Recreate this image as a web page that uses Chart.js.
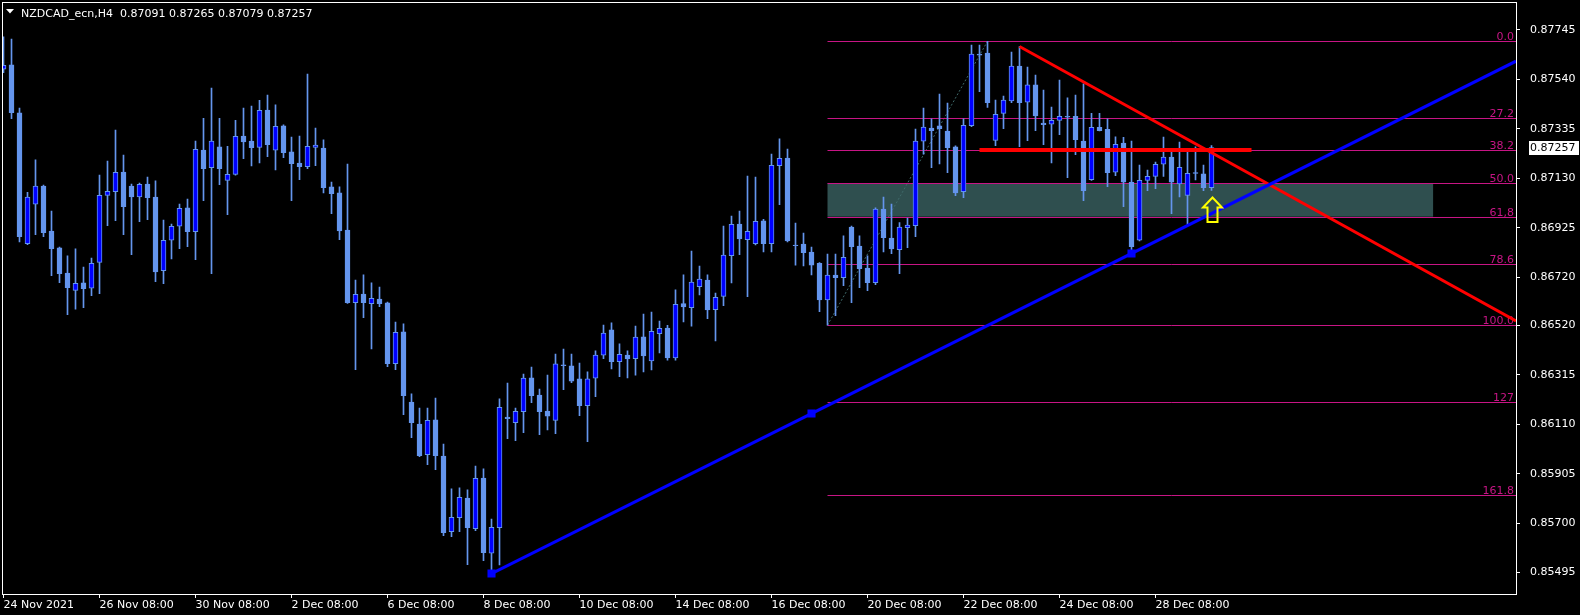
<!DOCTYPE html>
<html>
<head>
<meta charset="utf-8">
<title>NZDCAD_ecn,H4</title>
<script src="https://cdn.jsdelivr.net/npm/chart.js@4.4.1/dist/chart.umd.min.js"></script>
<style>
  html, body { margin: 0; padding: 0; background: #000; }
  #wrap { width: 1580px; height: 615px; }
</style>
</head>
<body>
<div id="wrap"><canvas id="nzdcad" width="1580" height="615"></canvas></div>
<script>
// NZDCAD H4 candles, oldest first
const symbolName = 'NZDCAD_ecn,H4';
const opens = [
  0.87582,0.87600,0.87401,0.86859,0.87022,0.87098,0.86911,0.86841,0.86737,0.86665,
  0.86696,0.86674,0.86781,0.87059,0.87074,0.87156,0.87098,0.87053,0.87106,0.87052,
  0.86747,0.86873,0.86931,0.87007,0.86908,0.87247,0.87174,0.87260,0.87121,0.87146,
  0.87305,0.87284,0.87258,0.87413,0.87246,0.87347,0.87239,0.87193,0.87178,0.87258,
  0.87255,0.87094,0.87069,0.86915,0.86614,0.86650,0.86610,0.86629,0.86613,0.86361,
  0.86493,0.86202,0.86111,0.85984,0.86128,0.85978,0.85665,0.85723,0.85804,0.85677,
  0.85887,0.85575,0.85681,0.86140,0.86117,0.86162,0.86302,0.86231,0.86165,0.86126,
  0.86356,0.86352,0.86298,0.86187,0.86301,0.86396,0.86501,0.86369,0.86397,0.86382,
  0.86472,0.86373,0.86486,0.86509,0.86385,0.86610,0.86593,0.86680,0.86708,0.86585,
  0.86640,0.86809,0.86940,0.86875,0.86859,0.86953,0.86859,0.87182,0.87214,0.86853,
  0.86857,0.86824,0.86777,0.86625,0.86728,0.86718,0.86928,0.86849,0.86758,0.86697,
  0.87002,0.86882,0.86834,0.86925,0.86933,0.87284,0.87338,0.87347,0.87326,0.87260,
  0.87074,0.87348,0.87645,0.87649,0.87287,0.87399,0.87451,0.87595,0.87445,0.87517,
  0.87359,0.87354,0.87370,0.87387,0.87387,0.87284,0.87124,0.87341,0.87333,0.87155,
  0.87276,0.87114,0.86873,0.87121,0.87138,0.87188,0.87218,0.87106,0.87059,0.87153,
  0.87148,0.87091
];
const highs = [
  0.87716,0.87707,0.87421,0.87072,0.87206,0.87102,0.86994,0.86845,0.86808,0.86837,
  0.86762,0.86799,0.87143,0.87201,0.87330,0.87226,0.87106,0.87110,0.87135,0.87119,
  0.86957,0.86940,0.87023,0.87044,0.87284,0.87378,0.87504,0.87378,0.87262,0.87370,
  0.87421,0.87429,0.87453,0.87475,0.87434,0.87351,0.87301,0.87305,0.87562,0.87338,
  0.87289,0.87114,0.87094,0.87189,0.86708,0.86729,0.86696,0.86679,0.86617,0.86534,
  0.86526,0.86236,0.86177,0.86177,0.86219,0.86028,0.85842,0.85846,0.85838,0.85937,
  0.85925,0.85717,0.86215,0.86281,0.86177,0.86318,0.86347,0.86256,0.86314,0.86401,
  0.86422,0.86401,0.86364,0.86327,0.86414,0.86521,0.86530,0.86443,0.86414,0.86517,
  0.86567,0.86575,0.86538,0.86520,0.86667,0.86729,0.86828,0.86766,0.86729,0.86654,
  0.86932,0.86973,0.86994,0.87139,0.87135,0.86960,0.87230,0.87293,0.87251,0.86944,
  0.86903,0.86845,0.86780,0.86816,0.86816,0.86891,0.86932,0.86891,0.86808,0.87007,
  0.87052,0.87023,0.86946,0.86965,0.87334,0.87421,0.87376,0.87479,0.87442,0.87264,
  0.87376,0.87682,0.87682,0.87698,0.87454,0.87471,0.87653,0.87676,0.87591,0.87558,
  0.87496,0.87425,0.87537,0.87463,0.87475,0.87521,0.87399,0.87399,0.87376,0.87302,
  0.87300,0.87284,0.87185,0.87164,0.87197,0.87301,0.87247,0.87280,0.87240,0.87260,
  0.87185,0.87265
];
const lows = [
  0.87568,0.87377,0.86866,0.86855,0.86896,0.86888,0.86726,0.86697,0.86564,0.86587,
  0.86593,0.86643,0.86651,0.86933,0.86954,0.86896,0.86813,0.86950,0.86958,0.86701,
  0.86693,0.86795,0.86838,0.86846,0.86792,0.87037,0.86734,0.87103,0.86979,0.87143,
  0.87211,0.87181,0.87194,0.87219,0.87165,0.87215,0.87037,0.87124,0.87170,0.87182,
  0.87069,0.86983,0.86875,0.86611,0.86336,0.86552,0.86422,0.86597,0.86349,0.86336,
  0.86150,0.86054,0.85976,0.85942,0.85922,0.85648,0.85644,0.85665,0.85528,0.85669,
  0.85544,0.85495,0.85527,0.86050,0.86042,0.86075,0.86199,0.86067,0.86087,0.86071,
  0.86253,0.86282,0.86146,0.86038,0.86224,0.86382,0.86339,0.86307,0.86302,0.86314,
  0.86327,0.86335,0.86406,0.86376,0.86376,0.86534,0.86517,0.86646,0.86548,0.86456,
  0.86602,0.86696,0.86813,0.86639,0.86854,0.86825,0.86825,0.87020,0.86866,0.86770,
  0.86766,0.86729,0.86577,0.86521,0.86560,0.86685,0.86614,0.86676,0.86664,0.86689,
  0.86825,0.86817,0.86734,0.86842,0.86888,0.87230,0.87174,0.87189,0.87153,0.87058,
  0.87049,0.87344,0.87489,0.87424,0.87265,0.87335,0.87443,0.87261,0.87286,0.87327,
  0.87269,0.87194,0.87311,0.87132,0.87228,0.87037,0.87121,0.87326,0.87095,0.87141,
  0.87012,0.86828,0.86870,0.87078,0.87087,0.87138,0.86983,0.87053,0.86940,0.87123,
  0.87078,0.87079
];
const closes = [
  0.87598,0.87402,0.86888,0.87052,0.87098,0.86904,0.86838,0.86734,0.86676,0.86694,
  0.86672,0.86777,0.87059,0.87076,0.87155,0.87012,0.87053,0.87105,0.87049,0.86742,
  0.86873,0.86931,0.87005,0.86908,0.87250,0.87170,0.87284,0.87170,0.87146,0.87304,
  0.87281,0.87257,0.87412,0.87269,0.87345,0.87236,0.87190,0.87178,0.87262,0.87267,
  0.87091,0.87066,0.86912,0.86614,0.86649,0.86614,0.86632,0.86610,0.86361,0.86491,
  0.86228,0.86117,0.85980,0.86126,0.85980,0.85660,0.85724,0.85807,0.85681,0.85886,
  0.85578,0.85683,0.86180,0.86133,0.86164,0.86301,0.86228,0.86162,0.86144,0.86360,
  0.86353,0.86289,0.86187,0.86298,0.86397,0.86488,0.86369,0.86400,0.86381,0.86471,
  0.86393,0.86495,0.86508,0.86385,0.86607,0.86596,0.86699,0.86712,0.86584,0.86636,
  0.86811,0.86939,0.86878,0.86910,0.86951,0.86859,0.87184,0.87213,0.86870,0.86850,
  0.86821,0.86770,0.86625,0.86728,0.86718,0.86802,0.86846,0.86755,0.86697,0.87002,
  0.86884,0.86837,0.86928,0.86936,0.87284,0.87342,0.87327,0.87335,0.87257,0.87069,
  0.87349,0.87645,0.87640,0.87443,0.87395,0.87454,0.87595,0.87443,0.87517,0.87388,
  0.87352,0.87370,0.87387,0.87383,0.87290,0.87078,0.87341,0.87327,0.87153,0.87271,
  0.87114,0.86846,0.87121,0.87138,0.87188,0.87218,0.87114,0.87175,0.87150,0.87150,
  0.87091,0.87257
];

// axis labels
const timeLabels = ['24 Nov 2021', '26 Nov 08:00', '30 Nov 08:00', '2 Dec 08:00', '6 Dec 08:00',
  '8 Dec 08:00', '10 Dec 08:00', '14 Dec 08:00', '16 Dec 08:00', '20 Dec 08:00',
  '22 Dec 08:00', '24 Dec 08:00', '28 Dec 08:00'];
const labelBars = [0, 12, 24, 36, 48, 60, 72, 84, 96, 108, 120, 132, 144];
const priceTicks = [0.87745, 0.87540, 0.87335, 0.87130, 0.86925, 0.86720, 0.86520,
  0.86315, 0.86110, 0.85905, 0.85700, 0.85495];

// fibonacci from the 100 bar low up to the 0 bar high
const fibLowBar = 103, fibHighBar = 123;
const fibLevels = [0, 0.272, 0.382, 0.5, 0.618, 0.786, 1, 1.27, 1.6];
const fibLabels = ['0.0', '27.2', '38.2', '50.0', '61,8', '78.6', '100.0', '127', '161.8'];
const zoneLevels = [0.5, 0.618];
const zoneEndBar = 178.7;

// trend lines (anchor bars + prices)
const redBars = [127, 151], redPrices = [0.87676, 0.87236];
const blueBars = [61, 141], bluePrices = [0.85491, 0.86818];
const flatBars = [122, 156], flatPrice = 0.87247;
const arrowBar = 151;

const xMin = -0.125, xMax = 189.0625;
const yMin = 0.854062, yMax = 0.878607;
const FONT = 'DejaVu Sans';
const bull = '#0000ff', bear = '#6495ed';

const ray = (bars, prices, endBar) => {
  const k = (prices[1] - prices[0]) / (bars[1] - bars[0]);
  return [{x: bars[0], y: prices[0]}, {x: endBar, y: prices[0] + k * (endBar - bars[0])}];
};

const fibHigh = highs[fibHighBar], fibLow = lows[fibLowBar];
const fibPrice = lv => fibHigh - lv * (fibHigh - fibLow);

var overlayPlugin = {
  id: 'overlay',
  beforeDraw(chart) {
    const c = chart.ctx;
    c.save();
    c.fillStyle = '#000';
    c.fillRect(0, 0, chart.width, chart.height);
    c.restore();
  },
  beforeDatasetsDraw(chart) {
    const {ctx, chartArea: a, scales: {x, y}} = chart;
    ctx.save();
    ctx.beginPath();
    ctx.rect(a.left, a.top, a.right - a.left, a.bottom - a.top);
    ctx.clip();
    // zone box
    const zx1 = x.getPixelForValue(fibLowBar), zx2 = x.getPixelForValue(zoneEndBar);
    const zy1 = y.getPixelForValue(fibPrice(zoneLevels[0])), zy2 = y.getPixelForValue(fibPrice(zoneLevels[1]));
    ctx.fillStyle = '#2f4f4f';
    ctx.fillRect(zx1, zy1, zx2 - zx1, zy2 - zy1);
    // fib diagonal
    ctx.strokeStyle = '#3f6a6a';
    ctx.lineWidth = 1;
    ctx.setLineDash([2, 2]);
    ctx.beginPath();
    ctx.moveTo(x.getPixelForValue(fibLowBar), y.getPixelForValue(fibLow));
    ctx.lineTo(x.getPixelForValue(fibHighBar), y.getPixelForValue(fibHigh));
    ctx.stroke();
    ctx.setLineDash([]);
    // fib levels
    const fx = x.getPixelForValue(fibLowBar);
    ctx.font = '11px "' + FONT + '"';
    ctx.textAlign = 'right';
    ctx.textBaseline = 'alphabetic';
    fibLevels.forEach((lv, i) => {
      const py = Math.round(y.getPixelForValue(fibPrice(lv))) + 0.5;
      ctx.strokeStyle = '#c71585';
      ctx.beginPath();
      ctx.moveTo(fx, py);
      ctx.lineTo(a.right, py);
      ctx.stroke();
      ctx.fillStyle = '#c71585';
      ctx.fillText(fibLabels[i], a.right - 2, py - 2);
    });
    ctx.restore();
  },
  afterDatasetsDraw(chart) {
    const {ctx, scales: {x, y}} = chart;
    // yellow up arrow under the last bar
    const ax = Math.round(x.getPixelForValue(arrowBar)) + 0.5;
    const ay = y.getPixelForValue(lows[arrowBar]) + 7;
    ctx.save();
    ctx.strokeStyle = '#ffff00';
    ctx.lineWidth = 2;
    ctx.lineJoin = 'miter';
    ctx.beginPath();
    ctx.moveTo(ax, ay);
    ctx.lineTo(ax + 9.5, ay + 10);
    ctx.lineTo(ax + 5, ay + 10);
    ctx.lineTo(ax + 5, ay + 24.5);
    ctx.lineTo(ax - 5, ay + 24.5);
    ctx.lineTo(ax - 5, ay + 10);
    ctx.lineTo(ax - 9.5, ay + 10);
    ctx.closePath();
    ctx.stroke();
    ctx.restore();
  },
  afterDraw(chart) {
    const {ctx, chartArea: a, scales: {y}} = chart;
    ctx.save();
    // frame
    ctx.strokeStyle = '#fff';
    ctx.lineWidth = 1;
    ctx.strokeRect(Math.floor(a.left) + 0.5, Math.floor(a.top) + 0.5,
      Math.round(a.right - a.left), Math.round(a.bottom - a.top));
    // title
    ctx.fillStyle = '#fff';
    ctx.beginPath();
    ctx.moveTo(6, 9);
    ctx.lineTo(14, 9);
    ctx.lineTo(10, 13.5);
    ctx.closePath();
    ctx.fill();
    const n = closes.length - 1;
    ctx.font = '11px "' + FONT + '"';
    ctx.textBaseline = 'alphabetic';
    ctx.textAlign = 'left';
    ctx.fillText(symbolName + '  ' + [opens[n], highs[n], lows[n], closes[n]].map(v => v.toFixed(5)).join(' '), 21, 16.5);
    // last price box
    const py = y.getPixelForValue(closes[n]);
    ctx.fillStyle = '#fff';
    ctx.fillRect(a.right + 13, Math.round(py) - 7, 50, 14);
    ctx.fillStyle = '#000';
    ctx.textBaseline = 'middle';
    ctx.fillText(closes[n].toFixed(5), a.right + 14, py + 0.5);
    ctx.restore();
  }
};

const wickData = lows.map((l, i) => ({x: i, y: [l, highs[i]]}));
const bodyData = opens.map((o, i) => ({x: i, y: [o, closes[i]]}));
const bodyColors = opens.map((o, i) => closes[i] >= o ? bull : bear);
const blueRay = ray(blueBars, bluePrices, xMax);
const blueMarks = [
  {x: blueBars[0], y: bluePrices[0]},
  {x: (blueBars[0] + blueBars[1]) / 2, y: (bluePrices[0] + bluePrices[1]) / 2},
  {x: blueBars[1], y: bluePrices[1]}
];

const ctx = document.getElementById('nzdcad').getContext('2d');
const chart = new Chart(ctx, {
  type: 'bar',
  data: {
    datasets: [{
      label: 'wicks',
      data: wickData,
      backgroundColor: bear,
      barThickness: 1,
      grouped: false,
      order: 6
    }, {
      label: 'bodies',
      data: bodyData,
      backgroundColor: bodyColors,
      borderColor: bear,
      borderWidth: 1,
      borderSkipped: false,
      barThickness: 5,
      grouped: false,
      order: 5
    }, {
      type: 'line',
      label: 'flat',
      data: flatBars.map(b => ({x: b, y: flatPrice})),
      borderColor: '#ff0000',
      borderWidth: 4,
      pointRadius: 0,
      clip: 0,
      order: 3
    }, {
      type: 'line',
      label: 'resistance',
      data: ray(redBars, redPrices, xMax),
      borderColor: '#ff0000',
      borderWidth: 3,
      pointRadius: 0,
      clip: 0,
      order: 2
    }, {
      type: 'line',
      label: 'support',
      data: blueRay,
      borderColor: '#0000ff',
      borderWidth: 3,
      pointRadius: 0,
      clip: 0,
      order: 1
    }, {
      type: 'line',
      label: 'anchors',
      data: blueMarks,
      showLine: false,
      pointStyle: 'rect',
      pointRadius: 5.7,
      pointBackgroundColor: '#0000ff',
      pointBorderWidth: 0,
      clip: 0,
      order: 0
    }]
  },
  options: {
    responsive: false,
    animation: false,
    devicePixelRatio: 1,
    layout: { autoPadding: false, padding: { left: 2.5, top: 2, right: 0, bottom: 0 } },
    plugins: { legend: { display: false }, tooltip: { enabled: false } },
    scales: {
      x: {
        type: 'linear',
        min: xMin,
        max: xMax,
        offset: false,
        grid: { display: true, offset: false, drawOnChartArea: false, drawTicks: true, tickLength: 4, color: '#fff' },
        border: { display: false },
        ticks: {
          color: '#fff',
          font: { family: FONT, size: 11 },
          align: 'start',
          maxRotation: 0,
          minRotation: 0,
          autoSkip: false,
          padding: 1,
          callback: (v, i) => timeLabels[i]
        },
        afterBuildTicks: s => { s.ticks = labelBars.map(v => ({value: v})); },
        afterFit: s => { s.height = 21; s.paddingLeft = 0; s.paddingRight = 0; }
      },
      y: {
        type: 'linear',
        position: 'right',
        min: yMin,
        max: yMax,
        grid: { drawOnChartArea: false, drawTicks: true, tickLength: 4, color: '#fff' },
        border: { display: false },
        ticks: {
          color: '#fff',
          font: { family: FONT, size: 11 },
          padding: 10,
          autoSkip: false,
          callback: v => v.toFixed(5)
        },
        afterBuildTicks: s => { s.ticks = priceTicks.map(v => ({value: v})); },
        afterFit: s => { s.width = 64; s.paddingTop = 0; s.paddingBottom = 0; }
      }
    }
  },
  plugins: [overlayPlugin]
});
</script>
</body>
</html>
